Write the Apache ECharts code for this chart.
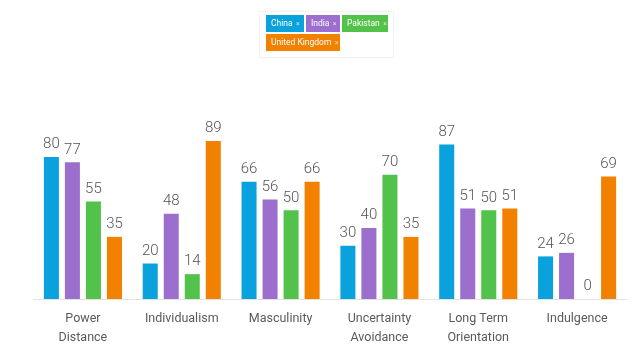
<!DOCTYPE html>
<html>
<head>
<meta charset="utf-8">
<script src="https://cdn.jsdelivr.net/npm/echarts@6/dist/echarts.min.js"></script>
<style>
html,body{margin:0;padding:0;background:#fff;}
#chart{width:643px;height:364px;}
</style>
</head>
<body>
<div id="chart"></div>
<script>
const categories = ['Power\nDistance', 'Individualism', 'Masculinity', 'Uncertainty\nAvoidance', 'Long Term\nOrientation', 'Indulgence'];
const seriesNames = ['China', 'India', 'Pakistan', 'United Kingdom'];
const seriesColors = ['#0aa2dd', '#9c6fcf', '#52c24b', '#f28100'];
const china = [80, 20, 66, 30, 87, 24];
const india = [77, 48, 56, 40, 51, 26];
const pakistan = [55, 14, 50, 70, 50, 0];
const uk = [35, 89, 66, 35, 51, 69];
const values = [china, india, pakistan, uk];

const chart = echarts.init(document.getElementById('chart'));

// Tag-style legend built as graphic elements
const tagWidths = [38, 34, 46, 74];
const tagH = 17, tagPadX = 5, tagGap = 2, rowGap = 2;
const legendX = 266, legendY = 15, legendMaxX = 392;
const legendGraphics = [];
let cx = legendX, cy = legendY;
seriesNames.forEach((n, i) => {
  const w = tagWidths[i];
  if (cx + w > legendMaxX && cx > legendX) { cx = legendX; cy += tagH + rowGap; }
  legendGraphics.push({
    type: 'group',
    x: cx, y: cy,
    onclick: () => chart.dispatchAction({ type: 'legendToggleSelect', name: n }),
    children: [
      { type: 'rect', shape: { x: 0, y: 0, width: w, height: tagH }, style: { fill: seriesColors[i] } },
      { type: 'text', x: tagPadX, y: tagH / 2 + 0.5,
        style: { text: '{n|' + n + '} {x|×}', verticalAlign: 'middle', align: 'left',
          rich: { n: { fill: '#ffffff', fontSize: 8.5, fontFamily: 'Roboto' },
                  x: { fill: 'rgba(255,255,255,0.75)', fontSize: 7, fontFamily: 'Roboto' } } } }
    ]
  });
  cx += w + tagGap;
});
legendGraphics.unshift({
  type: 'rect', shape: { x: 259.5, y: 11.5, width: 134, height: 46 },
  style: { fill: 'none', stroke: '#f3f3f3', lineWidth: 1 }
});

chart.setOption({
  animation: false,
  textStyle: { fontFamily: 'Roboto' },
  legend: { show: false, data: seriesNames },
  graphic: legendGraphics,
  grid: { left: 33.5, right: 16.5, top: 121.5, bottom: 65, containLabel: false },
  xAxis: {
    type: 'category',
    data: categories,
    axisLine: { show: true, lineStyle: { color: '#e2e2e2', width: 1 } },
    axisTick: { show: false },
    axisLabel: { color: '#5a5a5a', fontSize: 12.5, lineHeight: 19, margin: 10, fontFamily: 'Roboto' }
  },
  yAxis: {
    type: 'value',
    min: 0,
    max: 100,
    show: false,
    splitLine: { show: false }
  },
  series: seriesNames.map((n, i) => ({
    name: n,
    type: 'bar',
    data: values[i],
    barGap: '40%',
    barCategoryGap: '21%',
    itemStyle: { color: seriesColors[i] },
    label: {
      show: true,
      position: 'top',
      distance: 5,
      color: '#555555',
      fontSize: 15,
      fontWeight: 300,
      fontFamily: 'Roboto'
    }
  }))
});
</script>
</body>
</html>
